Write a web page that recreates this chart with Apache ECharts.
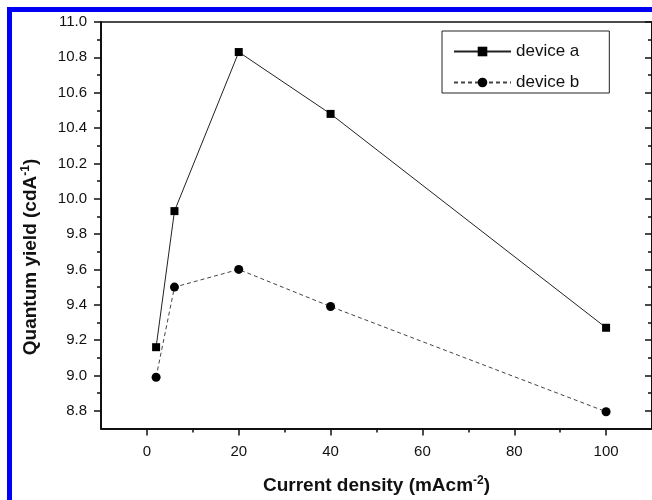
<!DOCTYPE html>
<html>
<head>
<meta charset="utf-8">
<script src="https://cdn.jsdelivr.net/npm/echarts@6/dist/echarts.min.js"></script>
<style>
  html, body { margin: 0; padding: 0; background: #fff; }
  #chart { width: 652px; height: 500px; }
  /* blue frame of the original figure */
  #frame {
    position: absolute; left: 7px; top: 7px; width: 660px; height: 510px;
    border-left: 5px solid #0000f5; border-top: 5px solid #0000f5;
    pointer-events: none;
  }
</style>
</head>
<body>
<div id="chart"></div>
<div id="frame"></div>
<script>
// data
const currentDensity = [2, 6, 20, 40, 100]
const deviceA = [9.16, 9.93, 10.83, 10.48, 9.27]
const deviceB = [8.99, 9.50, 9.60, 9.39, 8.795]

const xMajor = [0, 20, 40, 60, 80, 100]
const xMinor = [10, 30, 50, 70, 90]
const yMajor = [8.8, 9.0, 9.2, 9.4, 9.6, 9.8, 10.0, 10.2, 10.4, 10.6, 10.8, 11.0]
const yMinor = [8.9, 9.1, 9.3, 9.5, 9.7, 9.9, 10.1, 10.3, 10.5, 10.7, 10.9]

const font = 'Liberation Sans, Arial, sans-serif'
const black = '#111'

function pairs(xs, ys) {
  return xs.map((x, i) => [x, ys[i]])
}

const chart = echarts.init(document.getElementById('chart'))

const baseX = {
  type: 'value', min: -10, max: 110, gridIndex: 0,
  splitLine: { show: false }
}
const baseY = {
  type: 'value', min: 8.7, max: 11.0, gridIndex: 0,
  splitLine: { show: false }
}

chart.setOption({
  backgroundColor: '#fff',
  animation: false,
  grid: { left: 101, top: 22, width: 552, bottom: 70 },
  legend: {
    left: 442, top: 31,
    orient: 'vertical',
    borderColor: '#222', borderWidth: 1,
    padding: [12, 30, 2, 11],
    itemWidth: 57, itemHeight: 12, itemGap: 14,
    textStyle: { fontFamily: font, fontSize: 17, color: black },
    data: ['device a', 'device b']
  },
  xAxis: [
    Object.assign({}, baseX, {
      position: 'bottom',
      axisLine: { onZero: false, lineStyle: { color: black, width: 2 } },
      axisTick: { customValues: xMajor, length: 7, lineStyle: { color: black, width: 1.5 } },
      axisLabel: { customValues: xMajor, margin: 16, fontFamily: font, fontSize: 15, color: black },
      name: '{t|Current density (mAcm}{s|-2}{t|)}',
      nameLocation: 'middle',
      nameGap: 46,
      nameTextStyle: {
        rich: {
          t: { fontFamily: font, fontSize: 19, fontWeight: 'bold', color: black, lineHeight: 22 },
          s: { fontFamily: font, fontSize: 12, fontWeight: 'bold', color: black, verticalAlign: 'top', lineHeight: 12 }
        }
      }
    }),
    Object.assign({}, baseX, {
      position: 'bottom',
      axisLine: { show: false, onZero: false },
      axisTick: { customValues: xMinor, length: 4, lineStyle: { color: black, width: 1.5 } },
      axisLabel: { show: false }
    }),
    Object.assign({}, baseX, {
      position: 'top',
      axisLine: { onZero: false, lineStyle: { color: black, width: 1.5 } },
      axisTick: { show: false },
      axisLabel: { show: false }
    })
  ],
  yAxis: [
    Object.assign({}, baseY, {
      position: 'left',
      axisLine: { onZero: false, lineStyle: { color: black, width: 2 } },
      axisTick: { customValues: yMajor, length: 7, lineStyle: { color: black, width: 1.5 } },
      axisLabel: {
        customValues: yMajor, margin: 14, fontFamily: font, fontSize: 15, color: black,
        formatter: v => v.toFixed(1)
      }
    }),
    Object.assign({}, baseY, {
      position: 'left',
      axisLine: { show: false, onZero: false },
      axisTick: { customValues: yMinor, length: 4, lineStyle: { color: black, width: 1.5 } },
      axisLabel: { show: false }
    }),
    Object.assign({}, baseY, {
      position: 'right',
      axisLine: { onZero: false, lineStyle: { color: black, width: 2 } },
      axisTick: { inside: true, customValues: yMajor, length: 7, lineStyle: { color: black, width: 1.5 } },
      axisLabel: { show: false }
    }),
    Object.assign({}, baseY, {
      position: 'right',
      axisLine: { show: false, onZero: false },
      axisTick: { inside: true, customValues: yMinor, length: 4, lineStyle: { color: black, width: 1.5 } },
      axisLabel: { show: false }
    })
  ],
  graphic: [
    {
      type: 'text',
      x: 31, y: 257,
      rotation: Math.PI / 2,
      style: {
        text: '{t|Quantum yield (cdA}{s|-1}{t|)}',
        align: 'center',
        verticalAlign: 'middle',
        rich: {
          t: { fontFamily: font, fontSize: 19, fontWeight: 'bold', fill: black, lineHeight: 22 },
          s: { fontFamily: font, fontSize: 12, fontWeight: 'bold', fill: black, verticalAlign: 'top', lineHeight: 12 }
        }
      }
    }
  ],
  series: [
    {
      name: 'device a',
      type: 'line',
      xAxisIndex: 0, yAxisIndex: 0,
      symbol: 'rect', symbolSize: 8,
      itemStyle: { color: '#000' },
      lineStyle: { color: '#222', width: 1 },
      data: pairs(currentDensity, deviceA)
    },
    {
      name: 'device b',
      type: 'line',
      xAxisIndex: 0, yAxisIndex: 0,
      symbol: 'circle', symbolSize: 9,
      itemStyle: { color: '#000' },
      lineStyle: { color: '#444', width: 1, type: [4, 3] },
      data: pairs(currentDensity, deviceB)
    }
  ]
})
</script>
</body>
</html>
